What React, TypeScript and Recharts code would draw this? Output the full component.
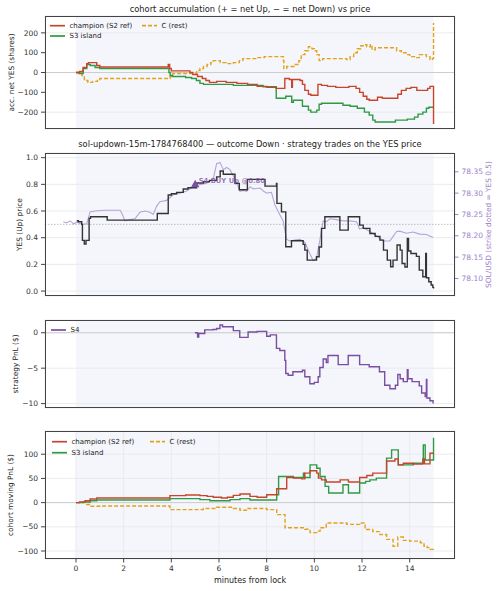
import React from "react";
import {
  LineChart,
  Line,
  XAxis,
  YAxis,
  CartesianGrid,
  ReferenceArea,
  ReferenceLine,
  ReferenceDot,
} from "recharts";

type Pt = [number, number];

const FONT = "DejaVu Sans, sans-serif";

// shared x axis (minutes from lock)
const xTicks = [0, 2, 4, 6, 8, 10, 12, 14];
const xDomain = [-1.3, 15.9];
const windowStart = 0;
const windowEnd = 15;

// panel 1: accumulated net YES (shares)
const accTicks = [-200, -100, 0, 100, 200];
const accChampion: Pt[] = [
  [0, 0], [0.15, 5], [0.3, 25], [0.45, 45], [0.52, 50], [0.87, 35], [1.0, 28], [3.87, 40], [3.93, 20],
  [4.0, 8], [4.78, 0], [4.9, -10], [5.1, -20], [5.3, -30], [5.45, -40], [5.6, -50], [5.9, -45], [6.3, -50],
  [6.75, -55], [7.2, -60], [7.6, -70], [8.0, -75], [8.4, -80], [8.76, -30], [8.95, -35], [9.05, -75],
  [9.08, -35], [9.4, -40], [9.5, -60], [9.6, -90], [9.75, -110], [9.85, -115], [10.15, -60], [10.3, -65],
  [10.55, -70], [10.9, -75], [11.45, -70], [11.75, -80], [11.9, -100], [12.05, -120], [12.2, -135],
  [12.3, -140], [12.65, -125], [12.85, -130], [13.5, -110], [13.65, -90], [13.85, -80], [14.05, -75],
  [14.3, -90], [14.75, -80], [14.85, -70], [15.0, -260],
];
const accIsland: Pt[] = [
  [0, 0], [0.15, -5], [0.3, 20], [0.45, 40], [0.6, 35], [0.8, 25], [1.0, 20], [3.9, 0], [3.95, -15],
  [4.05, -20], [4.6, -25], [4.85, -30], [5.05, -40], [5.2, -55], [5.35, -60], [6.6, -65], [7.85, -72],
  [8.4, -130], [8.8, -120], [9.05, -150], [9.12, -140], [9.5, -170], [9.75, -190], [9.85, -200],
  [10.1, -190], [10.2, -160], [10.3, -155], [11.2, -165], [11.5, -170], [11.8, -180], [12.1, -200],
  [12.3, -215], [12.45, -240], [12.55, -250], [13.4, -240], [13.9, -235], [14.2, -225], [14.35, -210],
  [14.55, -200], [14.7, -180], [14.8, -175], [15.0, -175],
];
const accRest: Pt[] = [
  [0, 0], [0.1, -5], [0.25, -15], [0.35, -40], [0.5, -50], [0.7, -45], [0.9, -35], [1.0, -30], [3.95, -20],
  [4.0, -10], [4.05, -5], [5.06, 10], [5.2, 20], [5.35, 30], [5.5, 40], [5.65, 50], [5.76, 60], [6.05, 50],
  [6.3, 45], [6.6, 50], [6.85, 60], [7.0, 70], [7.6, 75], [7.9, 80], [8.7, 60], [8.72, 20], [8.84, 30],
  [9.2, 40], [9.35, 60], [9.45, 90], [9.6, 110], [9.75, 130], [9.9, 120], [10.0, 110], [10.1, 90],
  [10.2, 60], [10.35, 70], [11.35, 65], [11.5, 80], [11.65, 100], [11.8, 120], [11.95, 135], [12.05, 140],
  [12.2, 130], [12.35, 140], [12.42, 115], [12.55, 125], [13.45, 110], [13.65, 100], [13.85, 90],
  [14.0, 80], [14.2, 75], [14.4, 90], [14.7, 80], [14.85, 65], [14.95, 70], [15.0, 250],
];

// panel 2: YES price and SOL/USD
const priceTicks = [0, 0.2, 0.4, 0.6, 0.8, 1.0];
const solTicks = [78.1, 78.15, 78.2, 78.25, 78.3, 78.35];
const strikeYes = 0.5;
const yesPrice: Pt[] = [
  [0.03, 0.527], [0.1, 0.52], [0.24, 0.5], [0.27, 0.38], [0.35, 0.352], [0.42, 0.38], [0.55, 0.545],
  [0.61, 0.557], [1.31, 0.532], [3.41, 0.582], [3.87, 0.72], [4.0, 0.73], [4.22, 0.74], [4.5, 0.765],
  [4.7, 0.775], [5.06, 0.81], [5.35, 0.82], [5.6, 0.83], [5.9, 0.856], [6.05, 0.9], [6.18, 0.876],
  [6.67, 0.807], [6.85, 0.76], [7.19, 0.837], [7.93, 0.787], [8.41, 0.807], [8.43, 0.657], [8.62, 0.594],
  [8.8, 0.332], [9.04, 0.377], [9.53, 0.35], [9.6, 0.307], [9.7, 0.232], [10.09, 0.257], [10.2, 0.33],
  [10.3, 0.47], [10.44, 0.557], [11.07, 0.457], [11.42, 0.557], [11.9, 0.494], [12.05, 0.47],
  [12.33, 0.432], [12.55, 0.41], [12.75, 0.382], [12.9, 0.307], [13.06, 0.232], [13.2, 0.182],
  [13.3, 0.232], [13.47, 0.345], [13.6, 0.307], [13.68, 0.207], [13.8, 0.18], [13.9, 0.395], [13.95, 0.3],
  [14.05, 0.282], [14.28, 0.26], [14.4, 0.157], [14.55, 0.107], [14.67, 0.282], [14.7, 0.1], [14.8, 0.07],
  [14.9, 0.045], [14.97, 0.028], [15.0, 0.02],
];
const solPrice: Pt[] = [
  [-0.53, 78.233], [-0.4, 78.23], [-0.25, 78.235], [-0.1, 78.228], [0.05, 78.232], [0.24, 78.227],
  [0.45, 78.228], [0.59, 78.256], [0.8, 78.258], [1.2, 78.26], [1.6, 78.26], [1.85, 78.26], [1.95, 78.25],
  [2.05, 78.235], [2.25, 78.238], [2.47, 78.24], [2.68, 78.255], [2.9, 78.258], [3.1, 78.255],
  [3.24, 78.25], [3.38, 78.269], [3.52, 78.28], [3.8, 78.283], [4.08, 78.296], [4.36, 78.3], [4.64, 78.305],
  [4.92, 78.315], [5.2, 78.32], [5.48, 78.323], [5.76, 78.334], [5.9, 78.369], [6.04, 78.372],
  [6.18, 78.355], [6.32, 78.36], [6.46, 78.355], [6.6, 78.34], [6.74, 78.325], [6.88, 78.304],
  [7.02, 78.306], [7.16, 78.304], [7.3, 78.315], [7.44, 78.31], [7.72, 78.312], [7.86, 78.305],
  [8.0, 78.3], [8.2, 78.302], [8.34, 78.273], [8.48, 78.257], [8.69, 78.235], [8.83, 78.192],
  [8.97, 78.188], [9.18, 78.19], [9.39, 78.192], [9.6, 78.185], [9.81, 78.158], [9.95, 78.142],
  [10.09, 78.148], [10.23, 78.19], [10.37, 78.235], [10.51, 78.233], [10.65, 78.24], [10.93, 78.238],
  [11.21, 78.235], [11.49, 78.235], [11.77, 78.233], [11.9, 78.216], [12.05, 78.219], [12.33, 78.21],
  [12.6, 78.2], [12.89, 78.188], [13.17, 78.188], [13.45, 78.21], [13.58, 78.211], [13.86, 78.206],
  [14.14, 78.209], [14.42, 78.204], [14.7, 78.203], [14.98, 78.196],
];
const buyTrade = { m: 5.0, price: 0.8 };

// panel 3: strategy PnL ($)
const pnlTicks = [-10, -5, 0];
const pnlS4: Pt[] = [
  [4.99, 0], [5.1, -0.6], [5.15, -0.1], [5.4, 0.4], [5.75, 0.45], [5.9, 0.6], [6.04, 1.1], [6.15, 0.85],
  [6.6, 0.3], [6.87, -0.65], [7.22, 0.1], [7.6, 0.2], [8.0, -0.5], [8.15, -0.3], [8.41, -2.2], [8.55, -2.5],
  [8.76, -3.9], [8.8, -5.75], [8.9, -6.0], [9.1, -5.5], [9.5, -5.3], [9.6, -6.2], [9.81, -7.2], [10.0, -7.0],
  [10.16, -6.2], [10.23, -4.9], [10.37, -3.7], [10.5, -4.2], [10.57, -3.2], [11.0, -4.5], [11.42, -3.2],
  [11.9, -4.5], [12.3, -4.8], [12.73, -5.5], [12.95, -7.4], [13.17, -7.9], [13.4, -7.4], [13.5, -5.9],
  [13.6, -6.5], [13.73, -6.9], [13.9, -5.2], [13.93, -6.5], [14.1, -6.9], [14.4, -7.5], [14.5, -8.5],
  [14.65, -9.0], [14.7, -6.6], [14.72, -9.2], [14.85, -9.6], [14.98, -10.0],
];

// panel 4: cohort moving PnL ($)
const movTicks = [-100, -50, 0, 50, 100];
const movChampion: Pt[] = [
  [0, 0], [0.15, 1.5], [0.38, 4], [0.59, 7.5], [0.87, 9.6], [3.94, 14.4], [4.6, 15.8], [5.2, 14.4],
  [5.5, 13], [5.76, 11], [6.1, 9.6], [6.35, 11], [6.6, 15], [6.88, 17.8], [7.3, 13], [7.6, 11], [8.0, 16.4],
  [8.42, 28.8], [8.84, 52], [9.12, 50.7], [9.47, 49], [9.6, 61], [9.82, 65.8], [10.1, 61], [10.17, 50.7],
  [10.3, 47], [10.5, 42.5], [11.08, 47], [11.43, 42.5], [11.9, 52], [12.2, 56], [12.45, 61], [13.03, 86],
  [13.38, 90], [13.52, 78], [13.73, 81.5], [14.15, 79.5], [14.55, 90], [14.62, 80], [14.85, 102], [15.0, 102],
];
const movIsland: Pt[] = [
  [0, 0], [0.3, 1.4], [0.6, 4], [0.87, 5.5], [3.94, 8.2], [5.2, 6.2], [5.62, 4], [6.46, 6.2], [6.88, 8.2],
  [7.3, 5.5], [8.42, 16.4], [8.5, 54], [9.12, 52], [9.54, 61], [9.58, 52], [9.82, 78], [10.1, 71],
  [10.24, 54], [10.45, 33.6], [10.6, 20], [11.2, 37], [11.43, 20], [11.9, 40.4], [12.15, 44], [12.33, 47],
  [12.6, 50.7], [13.03, 92], [13.24, 109], [13.52, 78], [14.15, 81.5], [14.57, 119], [14.65, 88], [15.0, 134],
];
const movRest: Pt[] = [
  [0, 0], [0.45, -4], [0.59, -7.5], [1.0, -7], [3.94, -14.4], [5.34, -12.3], [5.9, -9.6], [6.6, -12],
  [6.88, -15.8], [7.15, -12], [8.0, -14.4], [8.42, -24.7], [8.77, -52], [9.6, -55], [9.82, -62], [10.1, -59],
  [10.24, -52], [10.5, -42], [11.36, -45], [11.9, -42], [12.13, -55.5], [12.45, -60], [12.75, -66],
  [13.03, -76], [13.3, -90], [13.5, -71], [13.73, -78], [14.0, -79.5], [14.45, -83], [14.6, -90],
  [14.73, -93], [14.85, -96.6], [15.0, -101],
];

const RED = "#c8452b";
const GREEN = "#2f9a44";
const ORANGE = "#e2a21c";
const PURPLE = "#7a4ea3";
const LILAC = "#b7a3d8";
const SOL_AXIS = "#9c82c8";
const DARK = "#333333";

const rows = (pts: Pt[]) => pts.map(([m, v]) => ({ m, v }));
const minus = (v: number) => (v < 0 ? "\u2212" + Math.abs(v) : String(v));

const PL = 45;
const PR = 455;
const TICK = { fontSize: 7.5, fill: "#333", fontFamily: FONT };

// plot rectangles (top, bottom)
const P1 = [16, 129];
const P2 = [153, 296];
const P3 = [320, 408];
const P4 = [431, 559];

function xAxis(labels: boolean, h: number) {
  return (
    <XAxis
      dataKey="m"
      type="number"
      domain={xDomain}
      ticks={xTicks}
      allowDataOverflow
      axisLine={false}
      tickSize={3.5}
      tickMargin={3}
      tickLine={{ stroke: "#444" }}
      tick={labels ? TICK : false}
      interval={0}
      height={h}
    />
  );
}

function grid() {
  return <CartesianGrid stroke="#e6e6e6" strokeWidth={0.8} />;
}

function shade() {
  return <ReferenceArea x1={windowStart} x2={windowEnd} fill="#e6eaf5" fillOpacity={0.42} stroke="none" />;
}

function step(pts: Pt[], color: string, dashed = false, yAxisId?: string) {
  return (
    <Line
      data={rows(pts)}
      dataKey="v"
      type="stepAfter"
      stroke={color}
      strokeWidth={1.4}
      strokeDasharray={dashed ? "4 2" : undefined}
      dot={false}
      isAnimationActive={false}
      yAxisId={yAxisId}
    />
  );
}

const BuyMarker = (p: any) => {
  const { cx, cy } = p;
  return (
    <g>
      <polygon points={`${cx},${cy - 4.5} ${cx - 4.2},${cy + 3} ${cx + 4.2},${cy + 3}`} fill={PURPLE} />
      <text
        x={cx + 3.5}
        y={cy - 1.5}
        fontSize={6.8}
        fontWeight="bold"
        fill={PURPLE}
        fillOpacity={0.75}
        fontFamily={FONT}
      >
        {`S4 BUY Up @${buyTrade.price.toFixed(2)}`}
      </text>
    </g>
  );
};

function LegendRow({ x, y, color, dashed, label, len = 15 }: any) {
  return (
    <g>
      <line x1={x} x2={x + len} y1={y} y2={y} stroke={color} strokeWidth={1.7} strokeDasharray={dashed ? "4 2" : undefined} />
      <text x={x + len + 4.5} y={y} dominantBaseline="central" fontSize={7} fill="#222" fontFamily={FONT}>
        {label}
      </text>
    </g>
  );
}

function YLabel({ x, y, text, color = "#222" }: any) {
  return (
    <text
      x={x}
      y={y}
      transform={`rotate(-90, ${x}, ${y})`}
      textAnchor="middle"
      dominantBaseline="central"
      fontSize={7.4}
      fill={color}
      fontFamily={FONT}
    >
      {text}
    </text>
  );
}

function chartBox(p: number[], xh: number) {
  return { top: p[0] - 4, height: p[1] - p[0] + 4 + xh };
}

export default function App() {
  const b1 = chartBox(P1, 6);
  const b2 = chartBox(P2, 6);
  const b3 = chartBox(P3, 6);
  const b4 = chartBox(P4, 22);
  const abs = (b: { top: number }) => ({ position: "absolute" as const, left: 0, top: b.top });

  return (
    <div style={{ position: "absolute", left: 0, top: 0, width: 500, height: 591, background: "#fff", fontFamily: FONT }}>
      <div style={abs(b1)}>
        <LineChart width={500} height={b1.height} margin={{ top: 4, right: 500 - PR, left: 0, bottom: 0 }}>
          {shade()}
          {grid()}
          {xAxis(false, 6)}
          <YAxis type="number" domain={[-285, 285]} ticks={accTicks} allowDataOverflow axisLine={false} tickSize={4} tickMargin={3} tickLine={{ stroke: "#444" }} tick={TICK} tickFormatter={minus} width={PL} />
          <ReferenceLine y={0} stroke="#cdcdcd" strokeWidth={1} />
          {step(accRest, ORANGE, true)}
          {step(accIsland, GREEN)}
          {step(accChampion, RED)}
        </LineChart>
      </div>

      <div style={abs(b2)}>
        <LineChart width={500} height={b2.height} margin={{ top: 4, right: 0, left: 0, bottom: 0 }}>
          {shade()}
          {grid()}
          {xAxis(false, 6)}
          <YAxis type="number" domain={[-0.037, 1.035]} ticks={priceTicks} allowDataOverflow axisLine={false} tickSize={4} tickMargin={3} tickLine={{ stroke: "#444" }} tick={TICK} tickFormatter={(v: number) => v.toFixed(1)} width={PL} />
          <YAxis yAxisId="r" orientation="right" type="number" domain={[78.059, 78.394]} ticks={solTicks} allowDataOverflow axisLine={false} tickSize={3.5} tickMargin={3} tickLine={{ stroke: SOL_AXIS }} tick={{ ...TICK, fill: SOL_AXIS }} tickFormatter={(v: number) => v.toFixed(2)} width={500 - PR} />
          <ReferenceLine y={strikeYes} stroke="#b0b0b0" strokeWidth={0.8} strokeDasharray="1.5 1.5" />
          <Line data={rows(solPrice)} dataKey="v" yAxisId="r" type="linear" stroke={LILAC} strokeWidth={1.1} dot={false} isAnimationActive={false} />
          {step(yesPrice, DARK)}
          <ReferenceDot x={buyTrade.m} y={buyTrade.price} r={4} shape={BuyMarker} />
        </LineChart>
      </div>

      <div style={abs(b3)}>
        <LineChart width={500} height={b3.height} margin={{ top: 4, right: 500 - PR, left: 0, bottom: 0 }}>
          {shade()}
          {grid()}
          {xAxis(false, 6)}
          <YAxis type="number" domain={[-10.62, 1.8]} ticks={pnlTicks} allowDataOverflow axisLine={false} tickSize={4} tickMargin={3} tickLine={{ stroke: "#444" }} tick={TICK} tickFormatter={minus} width={PL} />
          <ReferenceLine y={0} stroke="#cdcdcd" strokeWidth={1} />
          {step(pnlS4, PURPLE)}
        </LineChart>
      </div>

      <div style={abs(b4)}>
        <LineChart width={500} height={b4.height} margin={{ top: 4, right: 500 - PR, left: 0, bottom: 0 }}>
          {shade()}
          {grid()}
          {xAxis(true, 22)}
          <YAxis type="number" domain={[-116.5, 148]} ticks={movTicks} allowDataOverflow axisLine={false} tickSize={4} tickMargin={3} tickLine={{ stroke: "#444" }} tick={TICK} tickFormatter={minus} width={PL} />
          <ReferenceLine y={0} stroke="#cdcdcd" strokeWidth={1} />
          {step(movRest, ORANGE, true)}
          {step(movIsland, GREEN)}
          {step(movChampion, RED)}
        </LineChart>
      </div>

      <svg width={500} height={591} style={{ position: "absolute", left: 0, top: 0, pointerEvents: "none" }}>
        {[P1, P2, P3, P4].map((p, i) => (
          <rect key={i} x={PL + 0.5} y={p[0] + 0.5} width={PR - PL - 1} height={p[1] - p[0] - 1} fill="none" stroke="#444" strokeWidth={1} />
        ))}

        <text x={250} y={8.5} textAnchor="middle" dominantBaseline="central" fontSize={8.3} fill="#222" fontFamily={FONT}>
          cohort accumulation (+ = net Up, − = net Down) vs price
        </text>
        <text x={250} y={144} textAnchor="middle" dominantBaseline="central" fontSize={8.3} fill="#222" fontFamily={FONT}>
          sol-updown-15m-1784768400 — outcome Down · strategy trades on the YES price
        </text>

        <YLabel x={11} y={(P1[0] + P1[1]) / 2} text="acc. net YES (shares)" />
        <YLabel x={19} y={(P2[0] + P2[1]) / 2} text="YES (Up) price" />
        <YLabel x={488} y={(P2[0] + P2[1]) / 2} text="SOL/USD (strike dotted = YES 0.5)" color={SOL_AXIS} />
        <YLabel x={15} y={(P3[0] + P3[1]) / 2} text="strategy PnL ($)" />
        <YLabel x={10} y={(P4[0] + P4[1]) / 2} text="cohort moving PnL ($)" />

        <text x={250} y={580} textAnchor="middle" dominantBaseline="central" fontSize={8} fill="#222" fontFamily={FONT}>
          minutes from lock
        </text>

        <LegendRow x={50} y={25.7} color={RED} label="champion (S2 ref)" />
        <LegendRow x={142} y={25.7} color={ORANGE} dashed label="C (rest)" />
        <LegendRow x={50} y={36} color={GREEN} label="S3 island" />

        <LegendRow x={51} y={330} color={PURPLE} label="S4" />

        <LegendRow x={52} y={441.7} color={RED} label="champion (S2 ref)" />
        <LegendRow x={150} y={441.7} color={ORANGE} dashed label="C (rest)" />
        <LegendRow x={52} y={452.7} color={GREEN} label="S3 island" />
      </svg>
    </div>
  );
}
